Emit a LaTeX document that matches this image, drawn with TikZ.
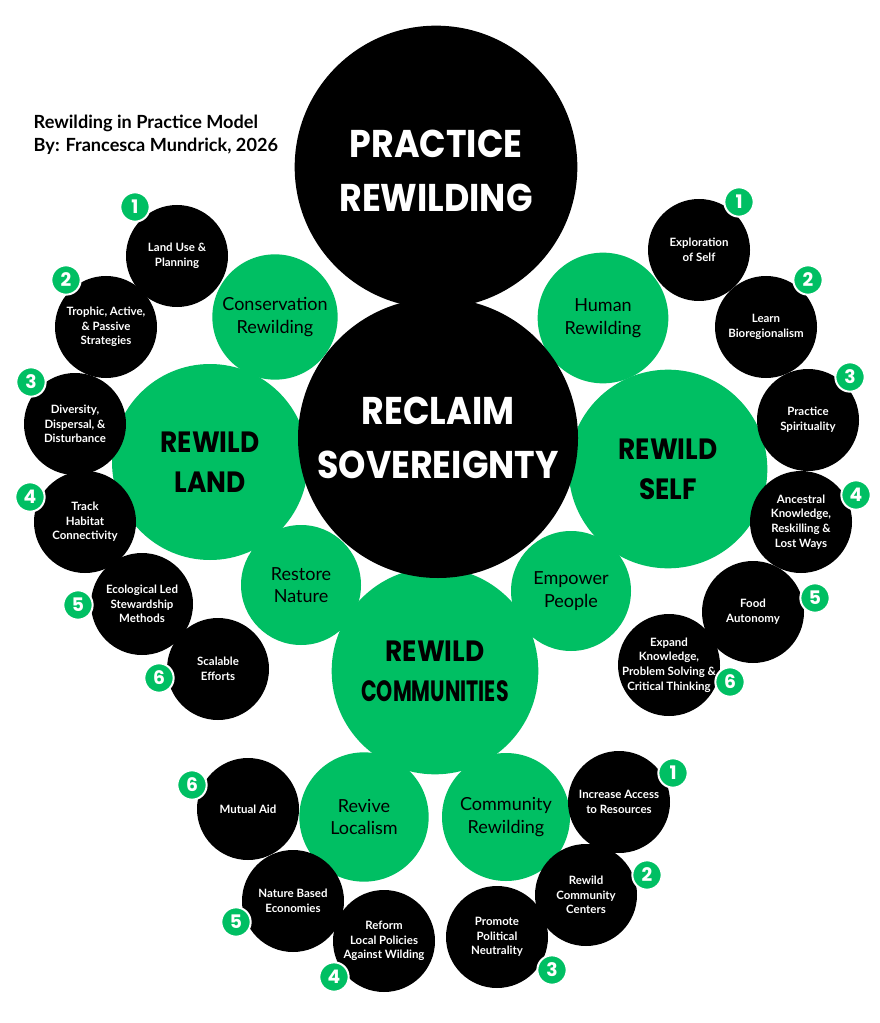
\documentclass[tikz,border=0pt]{standalone}
\usepackage{fontspec}
\usepackage{graphicx}
\setmainfont{Lato}
\newfontfamily\posterfont{Poppins}
\usetikzlibrary{positioning}
\definecolor{wildgreen}{RGB}{0,191,99}
\newcommand\squeeze[2][0.9]{\scalebox{#1}[1]{#2}}

\tikzset{
  core/.style={circle, fill=black, inner sep=0pt, minimum size=212pt},
  pillar/.style={circle, fill=wildgreen, inner sep=0pt, minimum size=147pt},
  branch/.style={circle, fill=wildgreen, inner sep=0pt, minimum size=96pt},
  leaf/.style={circle, fill=black, inner sep=0pt, minimum size=76.5pt},
  badge/.style={circle, fill=wildgreen, draw=white, line width=1.5pt, inner sep=0pt,
    minimum size=22pt, text=white, font=\posterfont\bfseries\fontsize{14}{14}\selectfont},
  coretext/.style={align=center, text=white, font=\posterfont\bfseries\fontsize{29}{41}\selectfont},
  pillartext/.style={align=center, text=black, font=\posterfont\bfseries\fontsize{22}{30}\selectfont},
  branchtext/.style={align=center, text=black, font=\fontsize{13.5}{17}\selectfont},
  leaftext/.style={align=center, text=white, font=\bfseries\fontsize{8.6}{11}\selectfont},
}

\begin{document}
\begin{tikzpicture}[x=0.75pt, y=-0.75pt]
    \useasboundingbox (0,0) rectangle (880,1023);
    \fill[white] (0,0) rectangle (880,1023);

    % Title
    \node[anchor=west, align=left, font=\bfseries\fontsize{13.6}{17.5}\selectfont] (title) at (29,135)
        {Rewilding in Practice Model\\By: Francesca Mundrick, 2026};

    % Pillars
    \node[pillar] (land) at (210,462) {};
    \node[pillar, minimum size=149pt] (self) at (668,469) {};
    \node[pillar, minimum size=155pt] (comm) at (435,671) {};

    % Branches
    \node[branch, minimum size=94pt] (cons) at (275,317) {};
    \node[branch, minimum size=98pt] (human) at (603,318) {};
    \node[branch, minimum size=90pt] (restore) at (301,585) {};
    \node[branch, minimum size=90pt] (empower) at (571,591) {};
    \node[branch, minimum size=97pt] (revive) at (364,817) {};
    \node[branch, minimum size=96pt] (crew) at (506,817) {};

    % Core
    \node[core, minimum size=210pt] (reclaim) at (438,438) {};
    \node[core] (practice) at (436,167) {};

    % Leaves - land
    \node[leaf] (land1) at (177,256) {};
    \node[leaf] (land2) at (106,327) {};
    \node[leaf] (land3) at (75,424) {};
    \node[leaf] (land4) at (85,522) {};
    \node[leaf] (land5) at (142,604) {};
    \node[leaf] (land6) at (218,669) {};

    % Leaves - self
    \node[leaf] (self1) at (699,250) {};
    \node[leaf] (self2) at (766,327) {};
    \node[leaf] (self3) at (808,420) {};
    \node[leaf] (self4) at (801,522) {};
    \node[leaf] (self5) at (753,612) {};
    \node[leaf] (self6) at (669,665) {};

    % Leaves - communities
    \node[leaf] (comm1) at (619,802) {};
    \node[leaf] (comm2) at (586,895) {};
    \node[leaf] (comm3) at (497,937) {};
    \node[leaf] (comm4) at (384,941) {};
    \node[leaf] (comm5) at (293,901) {};
    \node[leaf] (comm6) at (248,809) {};

    % Texts
    \node[coretext] (practicet) at (436,171) {\squeeze{PRACTICE}\\\squeeze{REWILDING}};
    \node[coretext] (reclaimt) at (reclaim.center) {\squeeze{RECLAIM}\\\squeeze{SOVEREIGNTY}};
    \node[pillartext] (landt) at (land.center) {\squeeze{REWILD}\\\squeeze{LAND}};
    \node[pillartext] (selft) at (self.center) {\squeeze{REWILD}\\\squeeze{SELF}};
    \node[pillartext] (commt) at (comm.center) {\squeeze{REWILD}\\\squeeze[0.7]{COMMUNITIES}};

    \node[branchtext] (const) at (cons.center) {Conservation\\Rewilding};
    \node[branchtext] (humant) at (human.center) {Human\\Rewilding};
    \node[branchtext] (restoret) at (restore.center) {Restore\\Nature};
    \node[branchtext] (empowert) at (empower.center) {Empower\\People};
    \node[branchtext] (revivet) at (revive.center) {Revive\\Localism};
    \node[branchtext] (crewt) at (crew.center) {Community\\Rewilding};

    \node[leaftext] (land1t) at (land1.center) {Land Use \&\\Planning};
    \node[leaftext] (land2t) at (land2.center) {Trophic, Active,\\\& Passive\\Strategies};
    \node[leaftext] (land3t) at (land3.center) {Diversity,\\Dispersal, \&\\Disturbance};
    \node[leaftext] (land4t) at (land4.center) {Track\\Habitat\\Connectivity};
    \node[leaftext] (land5t) at (land5.center) {Ecological Led\\Stewardship\\Methods};
    \node[leaftext] (land6t) at (land6.center) {Scalable\\Efforts};

    \node[leaftext] (self1t) at (self1.center) {Exploration\\of Self};
    \node[leaftext] (self2t) at (self2.center) {Learn\\Bioregionalism};
    \node[leaftext] (self3t) at (self3.center) {Practice\\Spirituality};
    \node[leaftext] (self4t) at (self4.center) {Ancestral\\Knowledge,\\Reskilling \&\\Lost Ways};
    \node[leaftext] (self5t) at (self5.center) {Food\\Autonomy};
    \node[leaftext] (self6t) at (self6.center) {Expand\\Knowledge,\\Problem Solving \&\\Critical Thinking};

    \node[leaftext] (comm1t) at (comm1.center) {Increase Access\\to Resources};
    \node[leaftext] (comm2t) at (comm2.center) {Rewild\\Community\\Centers};
    \node[leaftext] (comm3t) at (comm3.center) {Promote\\Political\\Neutrality};
    \node[leaftext] (comm4t) at (comm4.center) {Reform\\Local Policies\\Against Wilding};
    \node[leaftext] (comm5t) at (comm5.center) {Nature Based\\Economies};
    \node[leaftext] (comm6t) at (comm6.center) {Mutual Aid};

    % Number badges
    \foreach \x/\y/\d [count=\k] in {135/207/1, 66/280/2, 31/382/3, 30/497/4, 78/605/5, 159/678/6,
        739/202/1, 808/280/2, 850/377/3, 856/495/4, 815/598/5, 730/682/6,
        673/773/1, 647/875/2, 552/970/3, 334/977/4, 236/922/5, 192/785/6}
        \node[badge] (badge\k) at (\x,\y) {\d};
\end{tikzpicture}
\end{document}
